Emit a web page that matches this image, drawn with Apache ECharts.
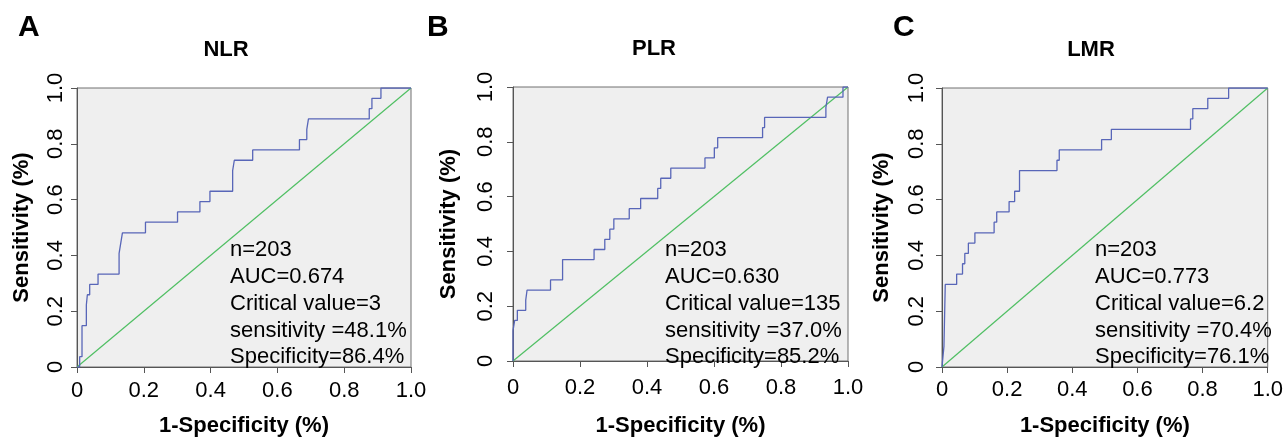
<!DOCTYPE html>
<html><head><meta charset="utf-8">
<script src="https://cdn.jsdelivr.net/npm/echarts@6/dist/echarts.min.js"></script>
<style>html,body{margin:0;padding:0;background:#fff}#c{width:1286px;height:442px}</style>
</head><body><div id="c"></div>
<script>
// ---------------- data ----------------
const panelLetters = ['A', 'B', 'C'];
const panelTitles = ['NLR', 'PLR', 'LMR'];
const xTickValues = [0, 0.2, 0.4, 0.6, 0.8, 1.0];
const yTickValues = [0, 0.2, 0.4, 0.6, 0.8, 1.0];
const xAxisTitle = '1-Specificity (%)';
const yAxisTitle = 'Sensitivity (%)';

// ROC corner points (1-specificity, sensitivity)
const nlrFpr = [0, 0.008, 0.015, 0.028, 0.031, 0.038, 0.063, 0.126, 0.131, 0.136, 0.205, 0.301, 0.368, 0.398, 0.466, 0.471, 0.526, 0.666, 0.688, 0.693, 0.875, 0.883, 0.910, 1.0];
const nlrTpr = [0, 0.037, 0.148, 0.222, 0.259, 0.296, 0.333, 0.407, 0.444, 0.481, 0.519, 0.556, 0.593, 0.630, 0.704, 0.741, 0.778, 0.815, 0.852, 0.889, 0.926, 0.963, 1.0, 1.0];

const plrFpr = [0, 0, 0.005, 0.013, 0.038, 0.042, 0.112, 0.148, 0.242, 0.274, 0.289, 0.301, 0.347, 0.381, 0.432, 0.441, 0.471, 0.573, 0.601, 0.611, 0.745, 0.751, 0.934, 0.939, 0.985, 1.0];
const plrTpr = [0, 0.111, 0.148, 0.185, 0.222, 0.259, 0.296, 0.370, 0.407, 0.444, 0.481, 0.519, 0.556, 0.593, 0.630, 0.667, 0.704, 0.741, 0.778, 0.815, 0.852, 0.889, 0.926, 0.963, 1.0, 1.0];

const lmrFpr = [0, 0.003, 0.006, 0.010, 0.045, 0.063, 0.070, 0.081, 0.101, 0.160, 0.168, 0.206, 0.223, 0.238, 0.353, 0.360, 0.490, 0.520, 0.763, 0.770, 0.816, 0.880, 1.0];
const lmrTpr = [0, 0.037, 0.074, 0.296, 0.333, 0.370, 0.407, 0.444, 0.481, 0.519, 0.556, 0.593, 0.630, 0.704, 0.741, 0.778, 0.815, 0.852, 0.889, 0.926, 0.963, 1.0, 1.0];

const refFpr = [0, 1];
const refTpr = [0, 1];

const noteN = ['203', '203', '203'];
const noteAUC = ['0.674', '0.630', '0.773'];
const noteCritical = ['3', '135', '6.2'];
const noteSens = ['48.1%', '37.0%', '70.4%'];
const noteSpec = ['86.4%', '85.2%', '76.1%'];

// ---------------- layout (pixels) ----------------
const layout = [
  {left: 77, top: 88, width: 334, height: 285, letterX: 18, titleX: 226, titleY: 50, yLabelMargin: 10, yNameGap: 44, xLabelMargin: 13, xNameGap: 48, noteX: 230},
  {left: 513, top: 87, width: 335, height: 283, letterX: 427, titleX: 654, titleY: 49, yLabelMargin: 16, yNameGap: 53, xLabelMargin: 16, xNameGap: 54, noteX: 665},
  {left: 942, top: 88, width: 335, height: 285, letterX: 893, titleX: 1091, titleY: 50, yLabelMargin: 14, yNameGap: 49, xLabelMargin: 12, xNameGap: 48, noteX: 1095}
];

const FONT = '"Liberation Sans", Arial, Helvetica, sans-serif';
const curves = [[nlrFpr, nlrTpr], [plrFpr, plrTpr], [lmrFpr, lmrTpr]];
const zip = (a, b) => a.map((v, i) => [v, b[i]]);
const fmt = v => (v === 0 ? '0' : v.toFixed(1));

const grids = [], xAxes = [], yAxes = [], series = [], graphics = [];
layout.forEach((L, i) => {
  grids.push({left: L.left, top: L.top, width: L.width, height: L.height, show: true,
    backgroundColor: '#efefef', borderColor: '#707070', borderWidth: 1, containLabel: false});
  const axisCommon = {
    type: 'value', min: 0, max: 1, interval: 0.2, gridIndex: i,
    axisLine: {show: true, onZero: false, lineStyle: {color: '#555', width: 1}},
    axisTick: {show: true, length: 6, inside: false, lineStyle: {color: '#555', width: 1}},
    splitLine: {show: false},
    nameLocation: 'middle',
    nameTextStyle: {fontFamily: FONT, fontWeight: 'bold', fontSize: 22, color: '#000'}
  };
  xAxes.push(Object.assign({}, axisCommon, {
    position: 'bottom', name: xAxisTitle, nameGap: L.xNameGap,
    axisLabel: {show: true, margin: L.xLabelMargin, fontFamily: FONT, fontSize: 22, color: '#000',
      formatter: fmt, showMinLabel: true, showMaxLabel: true, customValues: xTickValues}
  }));
  yAxes.push(Object.assign({}, axisCommon, {
    position: 'left', name: yAxisTitle, nameGap: L.yNameGap, nameRotate: 90,
    axisLabel: {show: true, rotate: 90, margin: L.yLabelMargin, fontFamily: FONT, fontSize: 22, color: '#000',
      formatter: fmt, showMinLabel: true, showMaxLabel: true, customValues: yTickValues}
  }));
  series.push({type: 'line', xAxisIndex: i, yAxisIndex: i, data: zip(refFpr, refTpr),
    symbol: 'none', silent: true, lineStyle: {color: '#4fbf63', width: 1.2}, z: 2});
  series.push({type: 'line', xAxisIndex: i, yAxisIndex: i, data: zip(curves[i][0], curves[i][1]),
    step: 'end', symbol: 'none', silent: true, lineStyle: {color: '#5866b8', width: 1.3}, z: 3});

  graphics.push({type: 'text', x: L.letterX, y: 28, style: {text: panelLetters[i],
    font: 'bold 30px ' + FONT, fill: '#000', align: 'left', verticalAlign: 'middle'}});
  graphics.push({type: 'text', x: L.titleX, y: L.titleY, style: {text: panelTitles[i],
    font: 'bold 22px ' + FONT, fill: '#000', align: 'center', verticalAlign: 'middle'}});
  const note = ['n=' + noteN[i], 'AUC=' + noteAUC[i], 'Critical value=' + noteCritical[i],
    'sensitivity =' + noteSens[i], 'Specificity=' + noteSpec[i]].join('\n');
  graphics.push({type: 'text', x: L.noteX, y: 237, z: 10, style: {text: note,
    font: '22px ' + FONT, fill: '#000', align: 'left', verticalAlign: 'top', lineHeight: 26.7}});
});

const chart = echarts.init(document.getElementById('c'), null, {renderer: 'canvas'});
chart.setOption({
  backgroundColor: '#ffffff',
  animation: false,
  grid: grids, xAxis: xAxes, yAxis: yAxes, series: series, graphic: graphics
});
</script></body></html>
